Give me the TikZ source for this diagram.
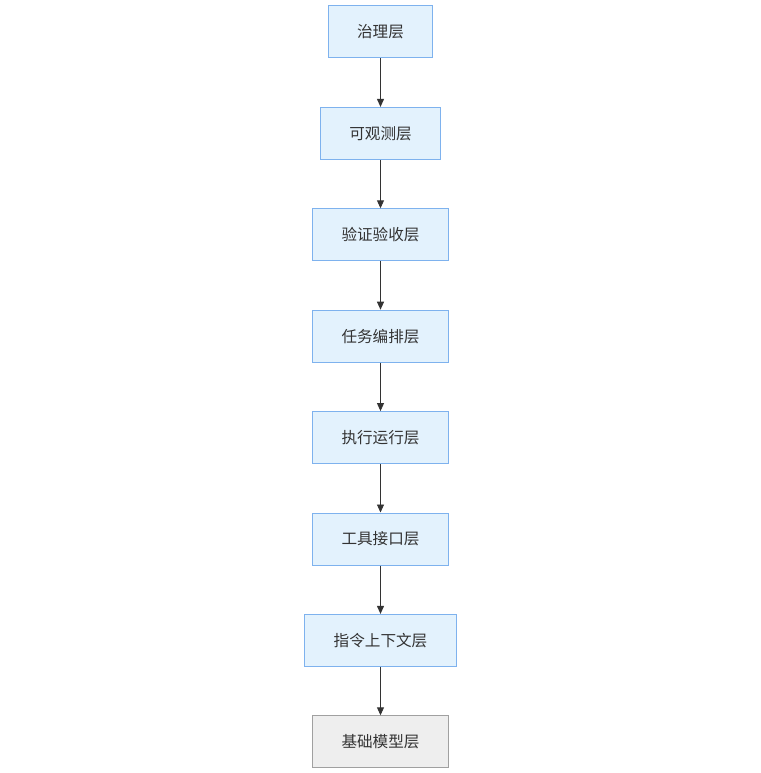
\documentclass[tikz,border=0pt]{standalone}
\usepackage{fontspec}
\newfontfamily\cjk{Noto Sans CJK SC}
\usetikzlibrary{positioning,arrows.meta}
\definecolor{layerfill}{HTML}{E3F2FD}
\definecolor{layerdraw}{HTML}{7EB2EE}
\definecolor{basefill}{HTML}{EEEEEE}
\definecolor{basedraw}{HTML}{A0A0A0}
\definecolor{linkcol}{HTML}{333333}
\begin{document}
\begin{tikzpicture}[x=1pt,y=1pt,
  layer/.style={draw=layerdraw,fill=layerfill,line width=1pt,inner xsep=29pt,
    minimum height=52pt,font=\cjk\fontsize{15.6}{18}\selectfont,text=black!80},
  base/.style={layer,draw=basedraw,fill=basefill},
  link/.style={draw=linkcol,line width=0.9pt,-{Triangle[length=8pt,width=7pt]}},
  node distance=48.4pt]
\useasboundingbox (0,0) rectangle (760,-773);
\node[layer] (gov) at (380.5,-32) {治理层};
\node[layer,below=of gov] (obs) {可观测层};
\node[layer,below=of obs] (verify) {验证验收层};
\node[layer,below=of verify] (orch) {任务编排层};
\node[layer,below=of orch] (exec) {执行运行层};
\node[layer,below=of exec] (tool) {工具接口层};
\node[layer,below=of tool] (ctx) {指令上下文层};
\node[base,below=of ctx] (model) {基础模型层};
\draw[link] (gov) -- (obs);
\draw[link] (obs) -- (verify);
\draw[link] (verify) -- (orch);
\draw[link] (orch) -- (exec);
\draw[link] (exec) -- (tool);
\draw[link] (tool) -- (ctx);
\draw[link] (ctx) -- (model);
\end{tikzpicture}
\end{document}
